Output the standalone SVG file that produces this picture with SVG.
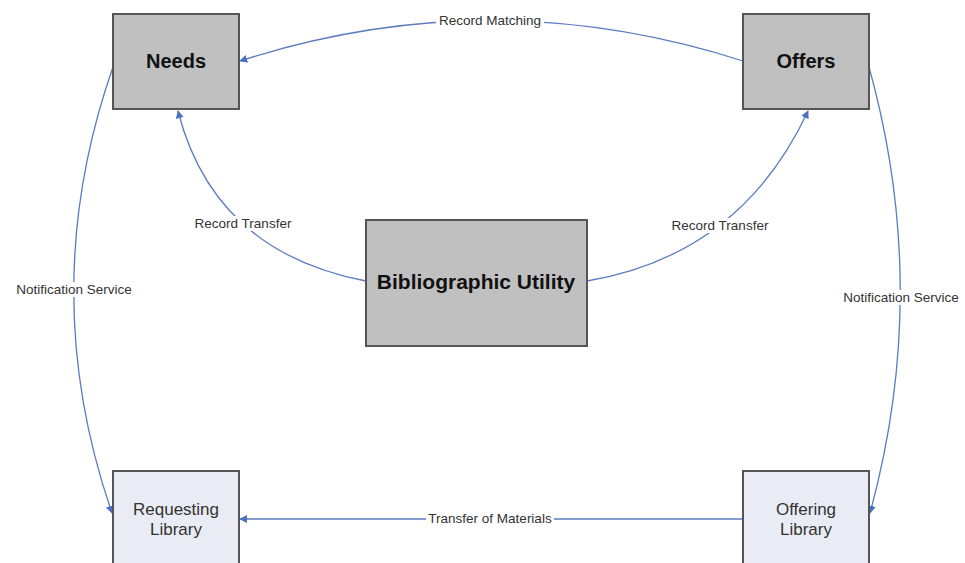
<svg xmlns="http://www.w3.org/2000/svg" width="965" height="563" viewBox="0 0 965 563">
<style>
.dark{fill:#c0c0c0;stroke:#555;stroke-width:2}
.light{fill:#e9ecf4;stroke:#555;stroke-width:2}
.big{font-family:"Liberation Sans",Arial,sans-serif;font-size:20px;font-weight:bold;fill:#111;text-anchor:middle}
.bu{font-size:21px}
.reg{font-family:"Liberation Sans",Arial,sans-serif;font-size:17px;fill:#333;text-anchor:middle}
.conn{fill:none;stroke:#5b7cc0;stroke-width:1.3}
.lbl{font-family:"Liberation Sans",Arial,sans-serif;font-size:13.5px;fill:#333;text-anchor:middle}
.bg{fill:#fff}
</style>
<defs>
<marker id="arr" viewBox="0 0 10 10" refX="9" refY="5" markerWidth="8" markerHeight="8" orient="auto" markerUnits="userSpaceOnUse">
<path d="M0,0 L10,5 L0,10 z" fill="#4a6fbf"/>
</marker>
</defs>
<rect width="965" height="563" fill="#fff"/>
<g id="connectors">
<path class="conn" d="M743,61 Q490,-20 240,61" marker-end="url(#arr)"/>
<path class="conn" d="M366,281 Q214,252 178,111" marker-end="url(#arr)"/>
<path class="conn" d="M587,281 Q741,255 808,111" marker-end="url(#arr)"/>
<path class="conn" d="M113,67 Q35,290 112,513" marker-end="url(#arr)"/>
<path class="conn" d="M869,67 Q931,290 870,513" marker-end="url(#arr)"/>
<path class="conn" d="M743,519 L240,519" marker-end="url(#arr)"/>
<rect class="bg" x="436" y="13" width="108" height="15"/>
<text class="lbl" x="490" y="25">Record Matching</text>
<rect class="bg" x="192" y="216" width="102" height="15"/>
<text class="lbl" x="243" y="228">Record Transfer</text>
<rect class="bg" x="669" y="218" width="102" height="15"/>
<text class="lbl" x="720" y="230">Record Transfer</text>
<rect class="bg" x="13" y="282" width="123" height="15"/>
<text class="lbl" x="74" y="294">Notification Service</text>
<rect class="bg" x="839" y="290" width="124" height="15"/>
<text class="lbl" x="901" y="302">Notification Service</text>
<rect class="bg" x="426" y="511" width="128" height="15"/>
<text class="lbl" x="490" y="523">Transfer of Materials</text>
</g>
<g id="needs">
<rect class="dark" x="113" y="14" width="126" height="95"/>
<text class="big" x="176" y="68">Needs</text>
</g>
<g id="offers">
<rect class="dark" x="743" y="14" width="126" height="95"/>
<text class="big" x="806" y="68">Offers</text>
</g>
<g id="bibliographic-utility">
<rect class="dark" x="366" y="220" width="221" height="126"/>
<text class="big bu" x="476" y="289">Bibliographic Utility</text>
</g>
<g id="requesting-library">
<rect class="light" x="113" y="471" width="126" height="100"/>
<text class="reg" x="176" y="515">Requesting</text>
<text class="reg" x="176" y="535">Library</text>
</g>
<g id="offering-library">
<rect class="light" x="743" y="471" width="126" height="100"/>
<text class="reg" x="806" y="515">Offering</text>
<text class="reg" x="806" y="535">Library</text>
</g>
</svg>
